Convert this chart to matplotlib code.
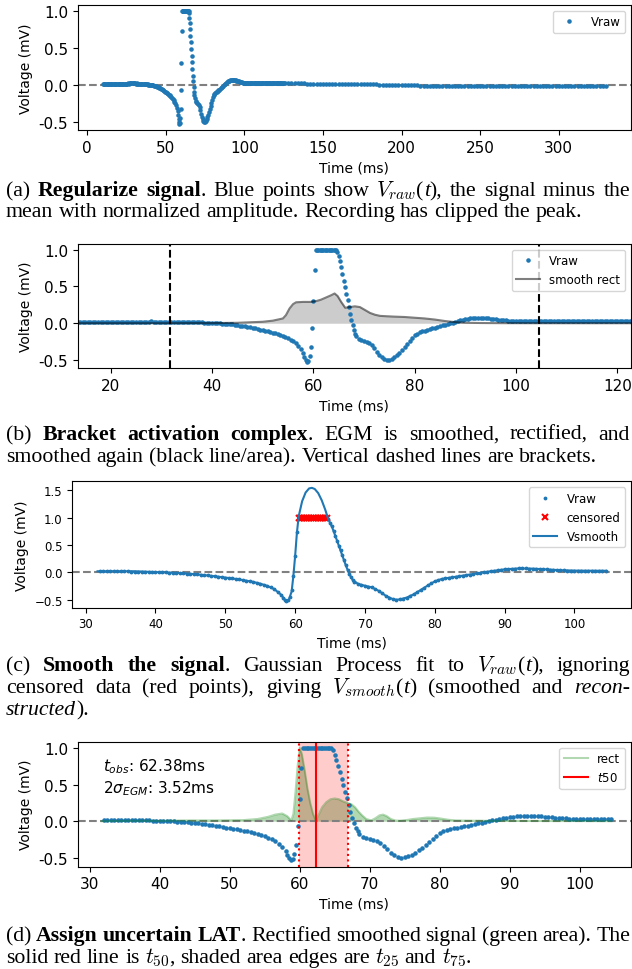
import re
import numpy as np
import matplotlib
matplotlib.use("Agg")
import matplotlib.pyplot as plt

W, H = 632, 970

# raw electrogram samples (ms, mV); four stretches with their own sample step
t0_lead, dt_lead = 10.0, 0.5
v_lead = [0.015, 0.016, 0.014, 0.015, 0.017, 0.016, 0.015, 0.014, 0.016, 0.017,
          0.015, 0.016, 0.014, 0.015, 0.016, 0.017, 0.016, 0.015, 0.016, 0.017, 0.018,
          0.017, 0.018, 0.016, 0.017, 0.019, 0.018, 0.02, 0.019, 0.02, 0.021,
          0.02, 0.022, 0.021, 0.023, 0.022, 0.024, 0.023, 0.022, 0.023, 0.022,
          0.022, 0.021, 0.022, 0.02, 0.021, 0.02, 0.019, 0.02, 0.018, 0.019,
          0.017, 0.016, 0.015, 0.014, 0.012, 0.011, 0.01, 0.008, 0.007, 0.005,
          0.003, 0.001, -0.001, -0.004, -0.007, -0.01, -0.013, -0.017, -0.021, -0.026,
          -0.031, -0.037, -0.043, -0.05, -0.057, -0.064, -0.071, -0.079, -0.087, -0.095,
          -0.103, -0.111, -0.12, -0.129, -0.139, -0.15, -0.162, -0.175, -0.19, -0.207,
          -0.225, -0.247, -0.272, -0.305, -0.35, -0.41]
t0_fast, dt_fast = 58.25, 0.25
v_fast = [-0.46, -0.50, -0.53, -0.51, -0.45, -0.33, -0.06, 0.30, 0.73,
          1.0, 1.0, 1.0, 1.0, 1.0, 1.0, 1.0, 1.0, 1.0, 1.0, 1.0, 1.0, 1.0, 1.0, 1.0, 1.0, 1.0,
          0.97, 0.91, 0.84, 0.76, 0.67, 0.58, 0.49, 0.40, 0.31, 0.22, 0.13, 0.05,
          -0.03, -0.09, -0.14, -0.18]
t0_tail, dt_tail = 69.0, 0.5
v_tail = [-0.21, -0.23, -0.245, -0.26, -0.275, -0.30, -0.34, -0.385, -0.43, -0.465,
          -0.49, -0.50, -0.495, -0.48, -0.46, -0.435, -0.40, -0.36, -0.32, -0.28,
          -0.24, -0.20, -0.165, -0.14, -0.12, -0.11, -0.10, -0.09, -0.08, -0.07,
          -0.06, -0.05, -0.04, -0.03, -0.02, -0.01, 0.0, 0.01, 0.02, 0.03,
          0.04, 0.05, 0.055, 0.06, 0.065, 0.07, 0.072, 0.073, 0.072, 0.07,
          0.068, 0.065, 0.062, 0.058, 0.054, 0.05, 0.046, 0.042, 0.039, 0.036,
          0.034, 0.033, 0.032,
          0.032, 0.031, 0.031, 0.03, 0.031, 0.03, 0.03, 0.029, 0.03, 0.029,
          0.029, 0.03, 0.029, 0.028, 0.029, 0.028, 0.029, 0.028, 0.028, 0.027,
          0.028, 0.027, 0.028, 0.027, 0.027, 0.026, 0.027, 0.026, 0.027, 0.026,
          0.026, 0.027, 0.026, 0.025, 0.026, 0.025, 0.026, 0.025, 0.026, 0.025,
          0.025, 0.026, 0.025, 0.024, 0.025, 0.024, 0.025, 0.024, 0.025, 0.024]
t0_late, dt_late = 126.0, 2.0
v_late = [0.024, 0.024, 0.023, 0.023, 0.022, 0.022, 0.022, 0.021, 0.021, 0.02, 0.02,
          0.02, 0.019, 0.019, 0.018, 0.018, 0.017, 0.017, 0.016, 0.016, 0.015, 0.015,
          0.014, 0.014, 0.013, 0.012, 0.012, 0.011, 0.01, 0.009, 0.008, 0.007, 0.006,
          0.005, 0.004, 0.003, 0.002, 0.001, 0.0, -0.002, -0.003, -0.004, -0.005, -0.006,
          -0.007, -0.007, -0.008, -0.008, -0.009, -0.009, -0.009, -0.01, -0.01, -0.01, -0.01,
          -0.01, -0.01, -0.011, -0.011, -0.011, -0.011, -0.011, -0.011, -0.012, -0.012, -0.012,
          -0.012, -0.012, -0.012, -0.012, -0.012, -0.013, -0.013, -0.013, -0.013, -0.013, -0.013,
          -0.013, -0.013, -0.014, -0.014, -0.014, -0.014, -0.014, -0.014, -0.015, -0.015, -0.015,
          -0.015, -0.015, -0.015, -0.015, -0.015, -0.016, -0.016, -0.016, -0.016, -0.016, -0.016,
          -0.016, -0.017, -0.017, -0.017]

# activation brackets (ms)
bracket = [31.7, 104.5]

# smoothed, rectified, smoothed again
t_srect = [13.5, 30, 40, 45, 50, 52, 54, 54.6, 55.3, 56, 56.6, 58, 59.5, 60.5, 61.5,
           62.5, 63.5, 64.2, 64.8, 65.5, 66.3, 67.2, 68.2, 69.2, 70.2, 71.2, 72.2, 73.2,
           74.5, 76, 78, 80, 82, 84, 86, 88, 90, 93, 97, 105, 122.7]
v_srect = [0, 0, 0.002, 0.006, 0.02, 0.035, 0.065, 0.11, 0.2, 0.26, 0.285, 0.29, 0.29,
           0.30, 0.32, 0.35, 0.38, 0.405, 0.37, 0.29, 0.21, 0.22, 0.23, 0.22, 0.18, 0.14,
           0.115, 0.1, 0.095, 0.09, 0.085, 0.075, 0.065, 0.05, 0.03, 0.015, 0.007, 0.003,
           0.001, 0.0, 0.0]

# Gaussian process reconstruction
t_vsmooth = [31.7, 34, 37, 40, 42, 44, 46, 48, 50, 52, 54, 55, 56, 57, 58, 58.5, 58.8,
             59.1, 59.5, 59.75, 60.0, 60.25, 60.5, 61.0, 61.5, 62.0, 62.4, 62.8, 63.3,
             63.8, 64.3, 64.75, 65.25, 65.75, 66.25, 66.75, 67.25, 67.75, 68.25, 69, 70,
             71, 72, 73, 74, 74.5, 75, 76, 77, 78, 79, 80, 81, 82, 84, 86, 88, 90, 92, 94,
             96, 98, 100, 102, 104.5]
v_vsmooth = [0.02, 0.021, 0.02, 0.005, -0.004, -0.017, -0.037, -0.064, -0.095, -0.129,
             -0.175, -0.207, -0.247, -0.305, -0.41, -0.50, -0.53, -0.50, -0.35, -0.06,
             0.30, 0.72, 1.02, 1.30, 1.46, 1.535, 1.545, 1.525, 1.45, 1.32,
             1.15, 0.97, 0.84, 0.67, 0.49, 0.31, 0.13, -0.03, -0.14, -0.21,
             -0.245, -0.275, -0.34, -0.43, -0.49, -0.50, -0.495, -0.46, -0.40, -0.32,
             -0.24, -0.165, -0.12, -0.10, -0.06, -0.02, 0.02, 0.055, 0.072, 0.068,
             0.054, 0.039, 0.032, 0.03, 0.029]

# rectified smoothed signal
t_rect = [31.7, 36, 40, 44, 48, 52, 54, 55.5, 56.5, 57.5, 58.2, 58.8, 59.1, 59.4, 59.7,
          60.0, 60.3, 60.7, 61.1, 61.5, 61.9, 62.3, 62.7, 63.2, 63.8, 64.4, 65.0, 65.6,
          66.2, 66.8, 67.4, 67.9, 68.4, 68.9, 69.5, 70.2, 70.8, 71.4, 71.9, 72.4, 73.0,
          73.6, 74.3, 75.2, 76.2, 77.2, 78.2, 79.2, 80.2, 81.2, 82.2, 84, 88, 92, 96, 100,
          104.5]
v_rect = [0.0, 0.005, 0.005, 0.01, 0.01, 0.015, 0.03, 0.06, 0.09, 0.105, 0.07, 0.01, 0.1,
          0.4, 0.75, 1.0, 0.92, 0.7, 0.45, 0.25, 0.1, 0.01, 0.09, 0.19, 0.26, 0.3, 0.31,
          0.3, 0.27, 0.25, 0.23, 0.19, 0.13, 0.08, 0.03, 0.01, 0.04, 0.08, 0.09, 0.07,
          0.03, 0.01, 0.005, 0.015, 0.03, 0.04, 0.05, 0.048, 0.035, 0.02, 0.01, 0.007,
          0.004, 0.003, 0.002, 0.002, 0.0]

t25, t50, t75 = 59.88, 62.38, 66.92

t_raw = np.concatenate([t0_lead + dt_lead * np.arange(len(v_lead)),
                        t0_fast + dt_fast * np.arange(len(v_fast)),
                        t0_tail + dt_tail * np.arange(len(v_tail)),
                        t0_late + dt_late * np.arange(len(v_late))])
v_raw = np.array(v_lead + v_fast + v_tail + v_late)
inside = (t_raw >= bracket[0]) & (t_raw <= bracket[1])
t_in, v_in = t_raw[inside], v_raw[inside]
clipped = v_in >= 1.0

blue = "#1f77b4"
fig = plt.figure(figsize=(W / 100, H / 100), dpi=100)


def px_axes(left, top, right, bottom):
    return fig.add_axes([left / W, 1 - bottom / H, (right - left) / W, (bottom - top) / H])


def style(ax, xticks, yticks, tsize, lsize, uminus=False):
    ax.set_xticks(xticks)
    ax.set_yticks(yticks)
    ax.set_yticklabels([("\u2212" if (uminus and v < 0) else ("-" if v < 0 else "")) + f"{abs(v):.1f}"
                        for v in yticks])
    ax.tick_params(labelsize=tsize)
    ax.set_xlabel("Time (ms)", fontsize=lsize)
    ax.set_ylabel("Voltage (mV)", fontsize=lsize)


# (a) regularized raw signal
ax = px_axes(77.7, 5.7, 631, 131)
ax.axhline(0, color="gray", ls="--", lw=1.5)
ax.plot(t_raw, v_raw, ".", ms=4.5, color=blue, label="Vraw")
ax.set_xlim(-6, 346)
ax.set_ylim(-0.608, 1.089)
style(ax, [0, 50, 100, 150, 200, 250, 300], [-0.5, 0, 0.5, 1.0], 11, 10)
ax.legend(loc="upper right", fontsize=8.5, numpoints=1)

# (b) brackets around activation
ax = px_axes(77.7, 244.7, 631, 369.3)
ax.plot(t_raw, v_raw, ".", ms=4.5, color=blue, label="Vraw")
ax.fill_between(t_srect, 0, v_srect, color="k", alpha=0.2, lw=0)
ax.plot(t_srect, v_srect, color="k", alpha=0.5, lw=1.5, label="smooth rect")
for tb in bracket:
    ax.axvline(tb, color="k", ls="--", lw=1.5)
ax.set_xlim(13.5, 122.7)
ax.set_ylim(-0.613, 1.082)
style(ax, [20, 40, 60, 80, 100, 120], [-0.5, 0, 0.5, 1.0], 11, 10)
ax.legend(loc="upper right", fontsize=8.5, numpoints=1)

# (c) Gaussian process fit
ax = px_axes(72.4, 482.3, 631, 608.7)
ax.axhline(0, color="gray", ls="--", lw=1.5)
ax.plot(t_in, v_in, ".", ms=3.5, color=blue, label="Vraw")
ax.plot(t_in[clipped], v_in[clipped], "x", ms=4, mew=1.5, color="red", label="censored")
ax.plot(t_vsmooth, v_vsmooth, color=blue, lw=1.5, label="Vsmooth")
ax.set_xlim(28.1, 108.1)
ax.set_ylim(-0.646, 1.665)
style(ax, [30, 40, 50, 60, 70, 80, 90, 100], [-0.5, 0, 0.5, 1.0, 1.5], 8.5, 10, uminus=True)
ax.legend(loc="upper right", fontsize=8.5, numpoints=1)

# (d) uncertain LAT
ax = px_axes(77.7, 742.7, 631, 867.7)
ax.axhline(0, color="gray", ls="--", lw=1.5)
ax.plot(t_in, v_in, ".", ms=4.5, color=blue)
ax.fill_between(t_rect, 0, v_rect, color="g", alpha=0.3, lw=0)
ax.plot(t_rect, v_rect, color="g", alpha=0.3, lw=1.5, label="rect")
ax.axvspan(t25, t75, color="r", alpha=0.2, lw=0)
ax.axvline(t25, color="r", ls=":", lw=1.5)
ax.axvline(t75, color="r", ls=":", lw=1.5)
ax.axvline(t50, color="r", lw=1.5, label="$t$50")
ax.text(0.045, 0.88, f"$t_{{obs}}$: {t50:.2f}ms\n$2\\sigma_{{EGM}}$: {(t75 - t25) / 2:.2f}ms",
        transform=ax.transAxes, va="top", fontsize=11)
ax.set_xlim(28.3, 107.3)
ax.set_ylim(-0.622, 1.086)
style(ax, [30, 40, 50, 60, 70, 80, 90, 100], [-0.5, 0, 0.5, 1.0], 11, 10)
ax.legend(loc="upper right", fontsize=8.5)

# captions, justified word by word
renderer = fig.canvas.get_renderer()
CAP_SIZE = 15.7
CAP_X0, CAP_X1 = 6, 630


def parse(line):
    runs = []
    for part in re.split(r"(\*\*[^*]+\*\*|\*[^*]+\*|\$[^$]+\$)", line):
        if not part:
            continue
        if part.startswith("**"):
            runs.append((part[2:-2], "bold"))
        elif part.startswith("*"):
            runs.append((part[1:-1], "italic"))
        elif part.startswith("$"):
            runs.append((part, "math"))
        else:
            runs.append((part, "normal"))
    words = [[]]
    for text, st in runs:
        if st == "math":
            words[-1].append((text, st))
            continue
        for i, p in enumerate(text.split(" ")):
            if i > 0:
                words.append([])
            if p:
                words[-1].append((p, st))
    return [w for w in words if w]


def caption_line(y, line, justify):
    words = []
    for word in parse(line):
        arts = []
        for s, st in word:
            t = fig.text(0, 1 - y / H, s, fontsize=CAP_SIZE, family="Liberation Serif",
                         weight="bold" if st == "bold" else "normal",
                         style="italic" if st == "italic" else "normal",
                         math_fontfamily="cm", va="baseline", ha="left")
            arts.append((t, t.get_window_extent(renderer).width))
        words.append(arts)
    total = sum(w for arts in words for _, w in arts)
    gap = CAP_SIZE * 0.25 * 100 / 72
    if justify and len(words) > 1:
        gap = (CAP_X1 - CAP_X0 - total) / (len(words) - 1)
    x = CAP_X0
    for arts in words:
        for t, w in arts:
            t.set_x(x / W)
            x += w
        x += gap


captions = [
    (196, "(a) **Regularize signal**. Blue points show $V_{raw}$(*t*), the signal minus the", True),
    (217, "mean with normalized amplitude. Recording has clipped the peak.", False),
    (440, "(b) **Bracket activation complex**. EGM is smoothed, rectified, and", True),
    (462, "smoothed again (black line/area). Vertical dashed lines are brackets.", False),
    (671, "(c) **Smooth the signal**. Gaussian Process fit to $V_{raw}$(*t*), ignoring", True),
    (693, "censored data (red points), giving $V_{smooth}$(*t*) (smoothed and *recon-*", True),
    (715, "*structed*).", False),
    (941, "(d) **Assign uncertain LAT**. Rectified smoothed signal (green area). The", True),
    (963, "solid red line is $t_{50}$, shaded area edges are $t_{25}$ and $t_{75}$.", False),
]
for y, line, just in captions:
    caption_line(y, line, just)

fig.savefig("out.png", dpi=100)
